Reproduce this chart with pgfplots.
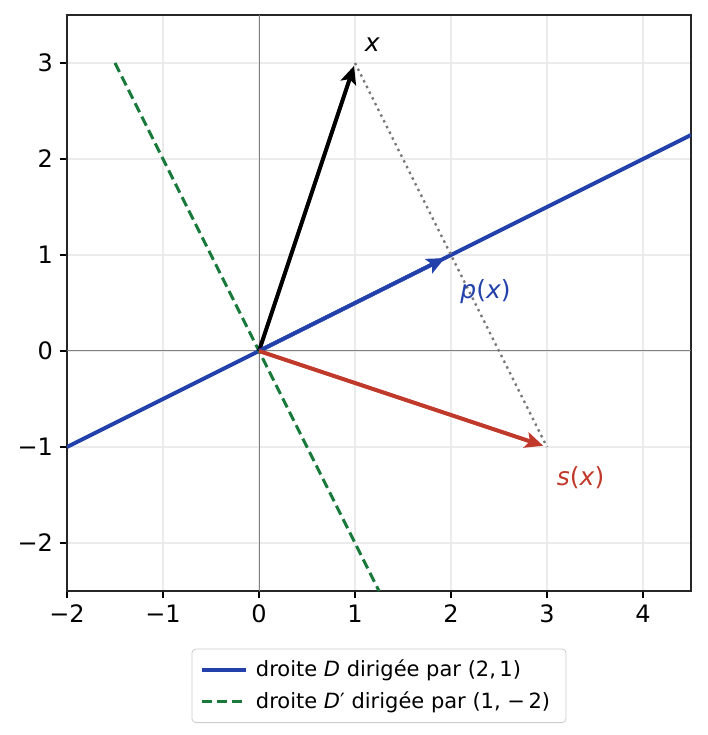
\documentclass[border=0pt]{standalone}
\usepackage{fontspec}
\setmainfont{DejaVu Sans}
\usepackage{pgfplots}
\pgfplotsset{compat=1.18}
\usetikzlibrary{arrows.meta}

\definecolor{dblue}{HTML}{2241AA}
\definecolor{dgreen}{HTML}{1A7A3C}
\definecolor{dred}{HTML}{C0392B}
\definecolor{dgray}{HTML}{777777}

\begin{document}
\begin{tikzpicture}
\begin{axis}[
  scale only axis,
  width=312pt, height=288pt,
  xmin=-2, xmax=4.5,
  ymin=-2.5, ymax=3.5,
  xtick={-2,-1,0,1,2,3,4},
  xticklabels={−2,−1,0,1,2,3,4},
  ytick={-2,-1,0,1,2,3},
  yticklabels={−2,−1,0,1,2,3},
  tick align=outside,
  xtick pos=bottom, ytick pos=left,
  major tick length=3.5pt,
  tick style={line width=0.8pt, black},
  axis line style={line width=0.8pt, black!85},
  ticklabel style={font=\fontsize{12}{14}\selectfont},
  grid=major,
  grid style={line width=0.8pt, black!8},
  legend style={
    at={(0.5,-0.1)}, anchor=north,
    draw=black!20, rounded corners=2pt,
    font=\fontsize{10.5}{13}\selectfont,
    row sep=2pt, inner xsep=4pt, inner ysep=3.5pt,
    nodes={inner xsep=4pt},
  },
  legend cell align=left,
  legend image code/.code={\draw[#1] (0pt,0pt) -- (22pt,0pt);},
]
\draw[black!50, line width=0.5pt] (axis cs:-2,0) -- (axis cs:4.5,0);
\draw[black!50, line width=0.5pt] (axis cs:0,-2.5) -- (axis cs:0,3.5);

\addplot[dblue, line width=2pt] coordinates {(-2,-1) (4.5,2.25)};
\addlegendentry{droite {\itshape D} dirigée par (2,\,1)}
\addplot[dgreen, line width=1.5pt, dash pattern=on 5pt off 2.5pt] coordinates {(-1.5,3) (1.25,-2.5)};
\addlegendentry{droite {\itshape D}′ dirigée par (1,\ −\,2)}

\addplot[dgray, line width=1.2pt, dash pattern=on 1.2pt off 2pt, forget plot] coordinates {(1,3) (3,-1)};

\addplot[black, line width=2pt, -{Stealth[length=9pt,width=8pt,inset=2pt]}, shorten >=1.5pt, forget plot] coordinates {(0,0) (1,3)};
\addplot[dblue, line width=2pt, -{Stealth[length=9pt,width=8pt,inset=2pt]}, shorten >=3.5pt, forget plot] coordinates {(0,0) (2,1)};
\addplot[dred, line width=2pt, -{Stealth[length=9pt,width=8pt,inset=2pt]}, shorten >=2pt, forget plot] coordinates {(0,0) (3,-1)};

\node[font=\fontsize{12.5}{14}\selectfont] at (axis cs:1.18,3.19) {\itshape x};
\node[font=\fontsize{12.5}{14}\selectfont, text=dblue] at (axis cs:2.36,0.62) {{\itshape p}({\itshape x})};
\node[font=\fontsize{12.5}{14}\selectfont, text=dred] at (axis cs:3.35,-1.32) {{\itshape s}({\itshape x})};
\end{axis}
\path ([xshift=8pt,yshift=7.5pt]current axis.north east)
      ([xshift=-33.5pt,yshift=-72pt]current axis.south west);
\end{tikzpicture}
\end{document}
